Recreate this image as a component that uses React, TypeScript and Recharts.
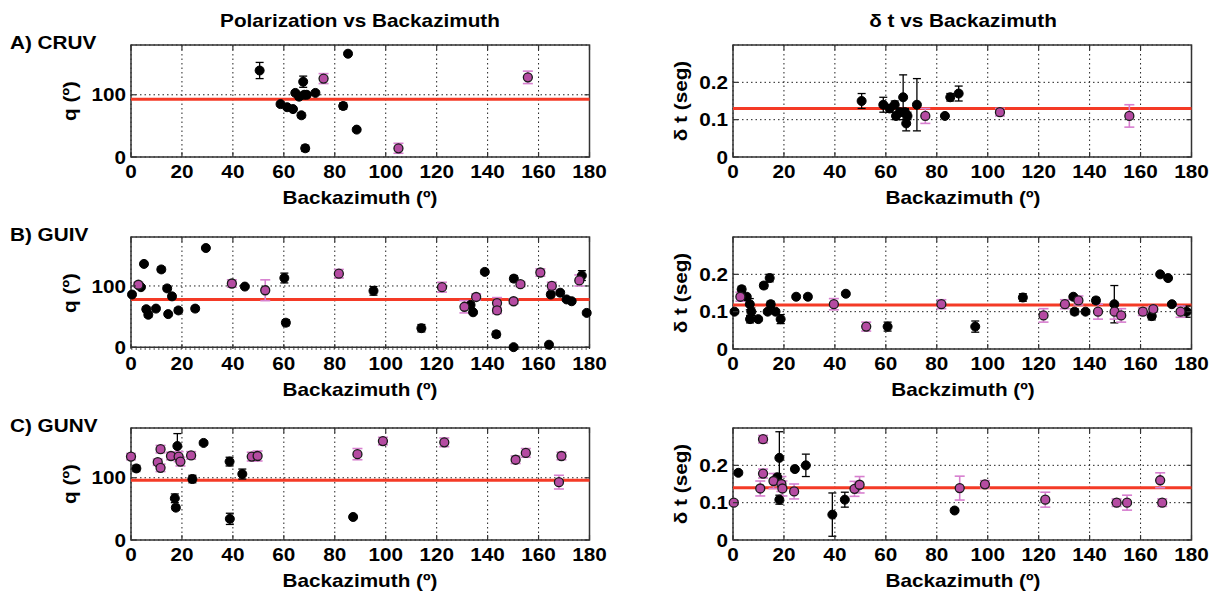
import React from 'react';
import { ScatterChart, Scatter, XAxis, YAxis, CartesianGrid, ReferenceLine, ReferenceArea, ErrorBar } from 'recharts';

// [backazimuth, value, error]
type Pt = [number, number, number];

const xTicks = [0, 20, 40, 60, 80, 100, 120, 140, 160, 180];
const polTicks = [0, 100];
const dtTicks = [0, 0.1, 0.2];

const cruvPolBlack: Pt[] = [
  [50.5, 139, 13], [58.7, 85, 3], [61.3, 80, 3], [63.6, 77, 3], [64.5, 103, 3], [66, 97, 4],
  [66.9, 67, 4], [67.6, 121, 9], [68, 100, 4], [68.4, 14, 5], [69, 100, 3], [72.4, 103, 3],
  [83.3, 82, 5], [85.2, 166, 3], [88.6, 44, 3],
];
const cruvPolMag: Pt[] = [[75.6, 126, 8], [105, 14, 8], [155.8, 128, 10]];
const cruvDtBlack: Pt[] = [
  [50.5, 0.15, 0.02], [59, 0.14, 0.02], [61.5, 0.13, 0.01], [63.5, 0.14, 0.01], [64, 0.11, 0.01],
  [65.5, 0.12, 0.01], [66.8, 0.16, 0.06], [67.5, 0.12, 0.01], [68, 0.09, 0.02], [68.5, 0.11, 0.01],
  [72.2, 0.14, 0.07], [83.2, 0.11, 0.005], [85.3, 0.16, 0.01], [88.6, 0.17, 0.02],
];
const cruvDtMag: Pt[] = [[75.5, 0.11, 0.02], [104.8, 0.12, 0.01], [155.6, 0.11, 0.03]];

const guivPolBlack: Pt[] = [
  [0.4, 86, 3], [3.9, 98, 3], [5.1, 136, 3], [6, 62, 4], [6.8, 53, 4], [9.8, 63, 3], [11.9, 127, 4],
  [14.2, 96, 4], [14.6, 54, 3], [16.1, 83, 4], [18.6, 60, 4], [25.2, 63, 4], [29.4, 162, 3],
  [44.7, 99, 3], [60.2, 113, 8], [60.8, 40, 5], [95.2, 92, 7], [114, 31, 6], [133.3, 69, 4],
  [134.3, 57, 3], [138.9, 123, 4], [143.4, 21, 5], [150.3, 112, 5], [150.2, 0, 3], [164.1, 4, 3],
  [164.8, 86, 4], [168.5, 89, 3], [171, 78, 3], [173, 75, 3], [177, 117, 8], [178.9, 56, 3],
];
const guivPolMag: Pt[] = [
  [2.9, 102, 4], [39.6, 104, 6], [52.7, 93, 17], [81.6, 120, 7], [122.1, 98, 8], [130.9, 66, 10],
  [135.5, 82, 5], [143.7, 72, 9], [143.7, 60, 5], [150.2, 75, 4], [152.9, 103, 4], [160.7, 122, 6],
  [165.2, 100, 6], [176, 109, 9],
];
const guivDtBlack: Pt[] = [
  [0.6, 0.1, 0.005], [3.4, 0.16, 0.008], [5.4, 0.14, 0.005], [6.6, 0.12, 0.015], [6.7, 0.08, 0.01],
  [7.2, 0.1, 0.01], [9.9, 0.08, 0.005], [12.1, 0.17, 0.008], [13.6, 0.1, 0.005], [14.4, 0.19, 0.01],
  [14.8, 0.12, 0.008], [16.7, 0.1, 0.005], [18.7, 0.08, 0.012], [24.8, 0.14, 0.005], [29.4, 0.14, 0.006],
  [44.3, 0.148, 0.005], [60.7, 0.06, 0.012], [95.1, 0.06, 0.015], [113.8, 0.138, 0.01], [133.6, 0.14, 0.005],
  [134.1, 0.1, 0.008], [138.4, 0.1, 0.005], [142.5, 0.13, 0.008], [149.7, 0.12, 0.05], [164.4, 0.088, 0.01],
  [167.7, 0.2, 0.005], [170.8, 0.19, 0.006], [172.3, 0.12, 0.005], [178.1, 0.1, 0.015],
];
const guivDtMag: Pt[] = [
  [2.9, 0.14, 0.012], [39.6, 0.12, 0.015], [52.3, 0.06, 0.012], [81.8, 0.12, 0.012], [121.9, 0.09, 0.018],
  [130.3, 0.12, 0.012], [135.6, 0.13, 0.012], [143.3, 0.1, 0.02], [149.8, 0.1, 0.02], [152.4, 0.09, 0.018],
  [160.9, 0.1, 0.01], [165, 0.107, 0.008], [175.7, 0.1, 0.015],
];

const gunvPolBlack: Pt[] = [
  [2.1, 115, 5], [17.2, 67, 7], [17.6, 52, 4], [18.2, 151, 20], [24.1, 98, 6], [28.5, 156, 3],
  [38.7, 126, 7], [38.8, 34, 9], [43.7, 106, 8], [87.2, 37, 3],
];
const gunvPolMag: Pt[] = [
  [0, 134, 5], [10.5, 125, 5], [11.6, 146, 6], [11.6, 116, 6], [15.7, 135, 6], [18.7, 134, 8],
  [19.4, 126, 7], [23.6, 136, 6], [47.4, 134, 7], [49.7, 135, 8], [88.9, 138, 9], [98.9, 159, 6],
  [123, 157, 7], [151, 129, 6], [155, 140, 7], [168, 93, 11], [169, 135, 6],
];
const gunvDtBlack: Pt[] = [
  [2.1, 0.18, 0.005], [17.4, 0.168, 0.01], [18.2, 0.22, 0.07], [18.2, 0.108, 0.012], [24.3, 0.19, 0.006],
  [28.6, 0.2, 0.03], [39, 0.068, 0.058], [43.9, 0.108, 0.02], [87, 0.079, 0.005],
];
const gunvDtMag: Pt[] = [
  [0.3, 0.1, 0.005], [10.7, 0.138, 0.02], [11.8, 0.27, 0.01], [11.8, 0.178, 0.012], [15.9, 0.158, 0.02],
  [19, 0.15, 0.02], [19.4, 0.138, 0.02], [24, 0.13, 0.02], [47.7, 0.137, 0.02], [49.7, 0.148, 0.022],
  [89, 0.139, 0.032], [98.9, 0.149, 0.01], [122.6, 0.108, 0.02], [150.6, 0.1, 0.01], [154.7, 0.1, 0.02],
  [167.7, 0.16, 0.02], [168.5, 0.1, 0.01],
];

// station means (red lines)
const polMeans = [93, 78, 96];
const dtMeans = [0.13, 0.118, 0.14];

const rowLabels = ['A) CRUV', 'B) GUIV', 'C) GUNV'];
const polXLabels = ['Backazimuth (º)', 'Backazimuth (º)', 'Backazimuth (º)'];
const dtXLabels = ['Backazimuth (º)', 'Backzimuth (º)', 'Backazimuth (º)'];

const FONT = '"Liberation Sans", Arial, Helvetica, sans-serif';
const SX = 1.12;
const PW = 458.5;
const PH = 112;
const YW = 70;
const MT = 10;
const MR = 26;
const XH = 34;
const ROW_TOPS = [45, 236.5, 428];
const LEFT_X = 130.7;
const RIGHT_X = 733.3;

const toRows = (pts: Pt[]) => pts.map(([az, v, err]) => ({ az, v, err }));

const BlackDot = (p: any) => <circle cx={p.cx} cy={p.cy} r={4.5} fill="#000" stroke="#000" strokeWidth={1} />;
const MagDot = (p: any) => <circle cx={p.cx} cy={p.cy} r={4.5} fill="#b54ba2" stroke="#1a1a1a" strokeWidth={1.3} />;

const tickText = { fontFamily: FONT, fontWeight: 700, fontSize: 18.5, fill: '#000' };

function XTick(props: any) {
  const { x, payload } = props;
  return (
    <g>
      <line x1={x} x2={x} y1={MT + PH} y2={MT + PH - 5} stroke="#333" strokeWidth={1.2} />
      <line x1={x} x2={x} y1={MT} y2={MT + 5} stroke="#333" strokeWidth={1.2} />
      <text transform={`translate(${x},${MT + PH + 14}) scale(${SX},1)`} textAnchor="middle" dominantBaseline="central" {...tickText}>
        {payload.value}
      </text>
    </g>
  );
}

function YTick(props: any) {
  const { y, payload } = props;
  return (
    <g>
      <line x1={YW} x2={YW + 5} y1={y} y2={y} stroke="#333" strokeWidth={1.2} />
      <line x1={YW + PW} x2={YW + PW - 5} y1={y} y2={y} stroke="#333" strokeWidth={1.2} />
      <text transform={`translate(${YW - 5},${y}) scale(${SX},1)`} textAnchor="end" dominantBaseline="central" {...tickText}>
        {payload.value}
      </text>
    </g>
  );
}

interface PanelProps {
  left: number;
  top: number;
  black: Pt[];
  magenta: Pt[];
  yMax: number;
  yTicks: number[];
  mean: number;
}

function Panel({ left, top, black, magenta, yMax, yTicks, mean }: PanelProps) {
  return (
    <div style={{ position: 'absolute', left: left - YW, top: top - MT }}>
      <ScatterChart width={YW + PW + MR} height={MT + PH + XH} margin={{ top: MT, right: MR, left: 0, bottom: 0 }}>
        <CartesianGrid stroke="#222" strokeDasharray="1.5 3" strokeWidth={1} />
        <XAxis type="number" dataKey="az" domain={[0, 180]} ticks={xTicks} interval={0} height={XH}
          tick={XTick} tickLine={false} axisLine={false} />
        <YAxis type="number" dataKey="v" domain={[0, yMax]} ticks={yTicks} interval={0} width={YW}
          tick={YTick} tickLine={false} axisLine={false} />
        <ReferenceLine y={mean} stroke="#f43a26" strokeWidth={3} />
        <Scatter data={toRows(black)} shape={BlackDot} isAnimationActive={false}>
          <ErrorBar dataKey="err" direction="y" width={4} stroke="#000" strokeWidth={1.3} isAnimationActive={false} />
        </Scatter>
        <Scatter data={toRows(magenta)} shape={MagDot} isAnimationActive={false}>
          <ErrorBar dataKey="err" direction="y" width={5} stroke="#d77fcf" strokeWidth={1.6} isAnimationActive={false} />
        </Scatter>
        <ReferenceArea x1={0} x2={180} y1={0} y2={yMax} fill="none" fillOpacity={0} stroke="#333" strokeWidth={1.5} />
      </ScatterChart>
    </div>
  );
}

function Label({ x, y, text, rotate = false, align = 'center' }: { x: number; y: number; text: string; rotate?: boolean; align?: string }) {
  const tf = align === 'left'
    ? `translate(0,-50%) scaleX(${SX})`
    : `translate(-50%,-50%) ${rotate ? 'rotate(-90deg) ' : ''}scaleX(${SX})`;
  return (
    <div style={{
      position: 'absolute', left: x, top: y, transform: tf, transformOrigin: align === 'left' ? 'left center' : 'center',
      whiteSpace: 'nowrap', fontFamily: FONT, fontWeight: 700, fontSize: 18.5, lineHeight: '20px', color: '#000',
    }}>
      {text}
    </div>
  );
}

export default function App() {
  const pol = [[cruvPolBlack, cruvPolMag], [guivPolBlack, guivPolMag], [gunvPolBlack, gunvPolMag]];
  const dt = [[cruvDtBlack, cruvDtMag], [guivDtBlack, guivDtMag], [gunvDtBlack, gunvDtMag]];
  return (
    <div style={{ position: 'absolute', left: 0, top: 0, width: 1211, height: 599, background: '#fff', overflow: 'hidden' }}>
      <Label x={LEFT_X + PW / 2} y={21} text="Polarization vs Backazimuth" />
      <Label x={RIGHT_X + PW / 2} y={21} text="δ t vs Backazimuth" />
      {ROW_TOPS.map((top, i) => (
        <React.Fragment key={i}>
          <Panel left={LEFT_X} top={top} black={pol[i][0]} magenta={pol[i][1]} yMax={180} yTicks={polTicks} mean={polMeans[i]} />
          <Panel left={RIGHT_X} top={top} black={dt[i][0]} magenta={dt[i][1]} yMax={0.3} yTicks={dtTicks} mean={dtMeans[i]} />
          <Label x={10} y={top - 2} text={rowLabels[i]} align="left" />
          <Label x={LEFT_X + PW / 2} y={top + PH + 41} text={polXLabels[i]} />
          <Label x={RIGHT_X + PW / 2} y={top + PH + 41} text={dtXLabels[i]} />
          <Label x={70} y={top + PH / 2} text="q (º)" rotate />
          <Label x={681} y={top + PH / 2} text="δ t (seg)" rotate />
        </React.Fragment>
      ))}
    </div>
  );
}
